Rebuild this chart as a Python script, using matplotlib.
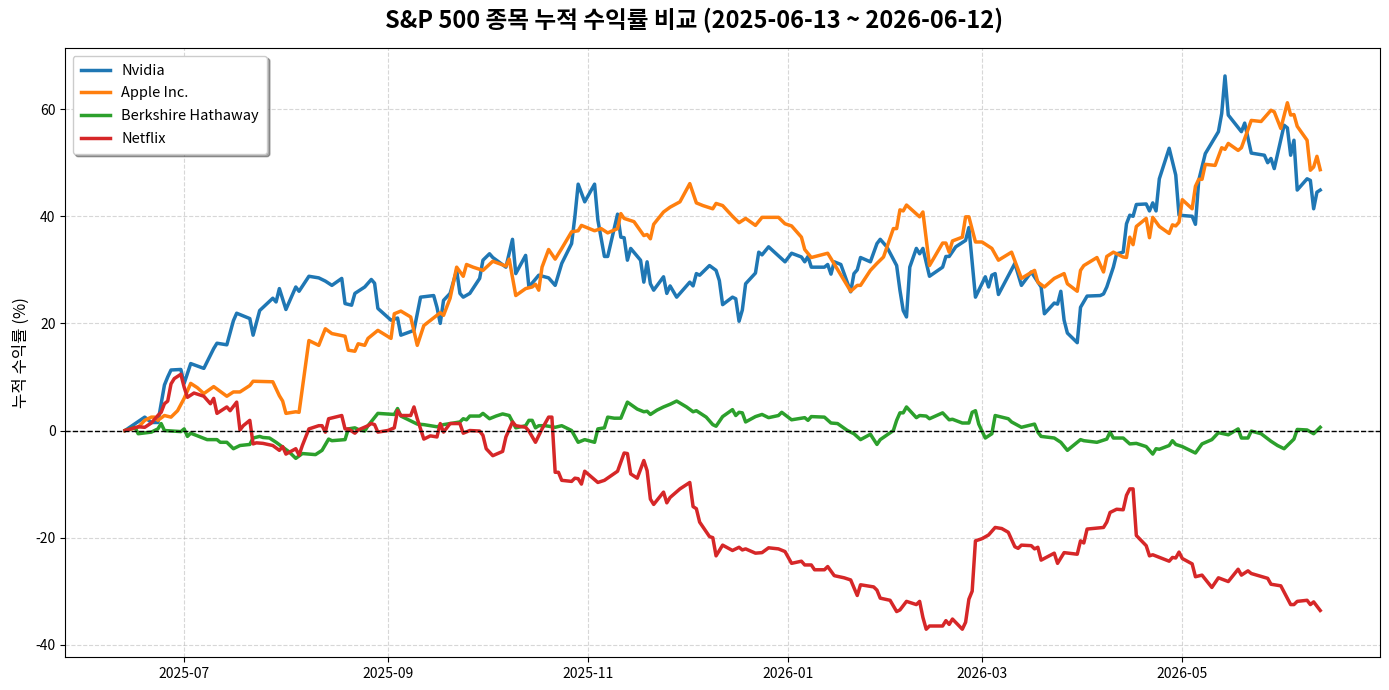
import matplotlib
matplotlib.use("Agg")
import matplotlib.pyplot as plt
import matplotlib.dates as mdates
import pandas as pd

plt.rcParams['font.family'] = ['Noto Sans CJK KR', 'DejaVu Sans']
plt.rcParams['axes.unicode_minus'] = False

start_date = "2025-06-13"
series_names = ["Nvidia", "Apple Inc.", "Berkshire Hathaway", "Netflix"]
series_colors = ["#1f77b4", "#ff7f0e", "#2ca02c", "#d62728"]

# (days since start, cumulative return %)
nvda = [(0,0),(6,2.5),(8,1.5),(10,1.5),(12,8.5),(13,10),(14,11.3),(17,11.4),(18,8.8),(20,12.5),
        (24,11.6),(27,15.3),(28,16.3),(31,16),(33,20.5),(34,21.9),(38,20.9),(39,17.8),(41,22.4),(45,24.7),
        (46,24),(47,26.5),(49,22.6),(52,26.8),(53,26),(56,28.8),(59,28.5),(61,27.9),(63,27.1),(66,28.4),
        (67,23.7),(69,23.4),(70,25.6),(73,26.8),(75,28.2),(76,27.5),(77,22.8),(81,20.6),(83,21),(84,17.8),
        (88,18.7),(90,24.9),(94,25.2),(95,23),(96,20),(97,24.3),(99,25.6),(101,29.9),(102,25.6),(103,24.9),
        (105,25.6),(108,28.4),(109,31.8),(111,33),(112,32.3),(116,30.5),(118,35.7),(119,29.3),(122,32.7),(123,26.8),
        (126,29),(129,28.5),(131,27.1),(133,31.2),(136,34.9),(137,39.9),(138,46),(140,42.7),(143,46),(144,39.3),
        (146,32.5),(147,32.5),(150,40.4),(151,36.1),(152,36),(153,31.8),(154,34),(157,31.8),(158,27.7),(159,31.5),
        (160,27.4),(161,26.2),(164,28.7),(165,25.6),(166,27),(168,24.9),(172,27.7),(173,27),(174,29.3),(175,29),
        (178,30.8),(180,29.9),(181,28),(182,23.5),(185,24.9),(186,24.6),(187,20.4),(188,22.5),(189,27.4),(192,29.4),
        (193,33.3),(194,32.8),(196,34.3),(201,31.5),(203,33.1),(206,32.4),(207,31.5),(208,32.5),(209,30.5),(213,30.5),
        (214,31),(215,29.2),(216,31.5),(218,31),(221,25.9),(222,29.3),(223,30),(224,32.3),(227,31.5),(229,34.9),
        (230,35.7),(232,34.3),(235,30.8),(236,26.2),(237,22.4),(238,21.2),(239,30.5),(241,34),(242,33),(243,34),
        (245,28.8),(249,30.5),(250,32.5),(251,32.5),(253,34.3),(256,35.5),(257,37.9),(259,24.9),(262,28.7),(263,26.8),
        (264,29),(265,29.3),(266,25.4),(271,31.2),(273,27.1),(276,29.6),(279,26.8),(280,21.8),(283,23.8),(284,23.6),
        (285,26),(286,20.6),(287,18.2),(290,16.4),(291,23),(293,25.1),(297,25.2),(298,25.5),(299,26.8),(301,30.5),
        (302,33),(304,33.3),(305,38.6),(306,40.2),(307,40),(308,42.2),(311,42.3),(312,41),(313,42.5),(314,41),
        (315,47),(318,52.7),(320,47.7),(321,40.2),(325,40),(326,38.5),(327,46.7),(329,51.7),(333,55.8),(334,59.2),
        (335,66.2),(336,58.9),(340,55.8),(341,57.4),(343,51.8),(347,51.4),(348,50),(349,50.8),(350,48.9),(353,57),
        (354,56.5),(355,51.4),(356,54.2),(357,44.9),(360,47),(361,46.7),(362,41.4),(363,44.5),(364,44.9)]

aapl = [(0,0),(4,0.6),(6,1.9),(8,2.5),(9,2.5),(10,1.9),(12,2.8),(14,2.5),(16,3.7),(18,6),
        (20,8.8),(22,8),(24,6.9),(27,8.2),(31,6.4),(33,7.2),(35,7.2),(36,7.6),(38,8.4),(39,9.2),
        (45,9.1),(47,6.5),(48,5.5),(49,3.2),(52,3.5),(53,3.4),(56,16.8),(59,15.9),(61,19),(63,18.1),
        (67,17.6),(68,15),(70,14.8),(71,16.2),(73,15.9),(74,17.2),(77,18.7),(81,17.2),(82,21.8),(84,22.3),
        (87,21.2),(89,15.9),(91,19.6),(95,21.5),(96,22),(97,21.5),(99,24.7),(101,30.5),(103,28.8),(104,31),
        (106,30.5),(109,29.9),(112,31.6),(116,30.7),(117,32),(119,25.2),(122,26.5),(124,26.8),(125,27.3),(126,26.2),
        (127,30.5),(129,33.8),(131,32),(133,34),(136,37.1),(138,37.3),(139,38.3),(143,37.3),(145,37.7),(147,36.9),
        (150,37.7),(151,40.5),(152,39.6),(155,39),(158,36.4),(159,36.6),(160,35.8),(161,38.5),(164,40.8),(166,41.7),
        (169,42.7),(172,46.1),(174,42.5),(176,42),(179,41.4),(180,42.4),(182,42),(185,40),(187,38.8),(189,39.6),
        (192,38.3),(194,39.8),(199,39.8),(201,38.6),(203,38.2),(206,36.1),(207,33.8),(209,32.3),(214,33.1),(215,32.1),
        (221,26),(223,27.1),(224,27.1),(227,29.9),(229,31.2),(231,32.4),(234,37.7),(235,37.7),(236,41.2),(237,41),
        (238,42.1),(242,39.9),(243,40.8),(245,30.8),(249,35),(250,35),(251,33.3),(252,35.4),(255,36.1),(256,39.9),
        (257,39.9),(259,35.2),(261,35.2),(264,34),(266,31.8),(270,33.3),(273,28.4),(277,29.9),(278,27.7),(280,26.8),
        (283,28.4),(286,29.3),(287,27.4),(290,26),(291,29.9),(292,30.8),(296,32.3),(298,29.6),(299,32.5),(301,33.3),
        (304,32.4),(305,32.3),(306,36.1),(307,34.7),(308,38.1),(311,39.6),(312,36),(313,39.8),(315,38.1),(318,36.8),
        (319,38.4),(320,38.2),(321,38.9),(322,43.1),(325,41.4),(326,45.6),(327,46.9),(328,46.9),(329,49.7),(332,49.5),
        (334,52.8),(335,52.5),(336,53.6),(339,52.3),(340,52.8),(343,57.9),(346,57.7),(349,59.8),(350,59.5),(352,56.4),
        (354,61.2),(355,58.9),(356,59),(357,56.8),(360,54.2),(361,48.6),(362,49.2),(363,51.2),(364,48.7)]

brk = [(0,0),(3,0.6),(4,-0.6),(8,-0.3),(10,0.3),(11,1.3),(12,0),(17,-0.2),(18,0.3),(19,-1.1),
       (20,-0.5),(25,-1.7),(28,-1.7),(29,-2.2),(31,-2.2),(33,-3.4),(35,-2.8),(38,-2.6),(39,-1.4),(41,-1.1),
       (42,-1.3),(44,-1.4),(46,-2.2),(48,-3.1),(50,-4),(52,-5.2),(54,-4.3),(58,-4.5),(60,-3.7),(62,-1.6),
       (63,-1.9),(67,-1.7),(68,0.3),(70,0.5),(71,0.2),(73,-0.1),(74,0.9),(77,3.2),(82,3),(83,4.1),
       (84,2.7),(89,1.2),(91,1.1),(95,0.7),(97,1.1),(102,1.6),(103,2.2),(104,2),(105,2.7),(108,2.7),
       (109,3.2),(111,2.2),(113,2.7),(115,3.1),(117,2.8),(119,0.5),(122,0.9),(123,1.9),(124,1.9),(125,0.5),
       (126,0.9),(128,0.9),(131,0.6),(133,0.9),(136,0),(138,-2.2),(140,-1.7),(143,-2.2),(144,0.3),(146,0.5),
       (147,2.5),(149,2.3),(151,2.3),(153,5.3),(156,4),(158,3.5),(159,3.6),(160,3),(162,3.8),(164,4.4),
       (166,4.9),(168,5.5),(171,4.4),(173,3.5),(174,3.7),(177,2.5),(179,1.1),(180,0.8),(182,2.6),(185,3.9),
       (186,2.8),(187,3.4),(188,3.3),(189,1.6),(192,2.6),(194,3),(196,2.4),(199,2.8),(200,3.4),(203,2),
       (207,2.4),(208,1.9),(209,2.6),(213,2.5),(215,1.4),(217,1.3),(220,0),(222,-0.6),(224,-1.7),(227,-0.7),
       (229,-2.6),(230,-1.7),(234,0),(235,1.9),(236,3.3),(237,3.3),(238,4.4),(241,2.4),(242,2.8),(244,2.7),
       (245,2.2),(249,3.3),(251,2),(252,2.1),(255,1.4),(257,1.4),(258,3.4),(259,3.7),(260,1.2),(262,-1.4),
       (264,-0.6),(265,2.8),(269,2.2),(270,1.6),(273,0.6),(277,1.2),(278,-0.3),(279,-1.1),(283,-1.4),(285,-2.2),
       (287,-3.7),(291,-1.7),(292,-1.9),(296,-2.2),(299,-1.6),(300,-0.3),(301,-1.4),(304,-1.4),(306,-2.5),(308,-2.4),
       (311,-3),(313,-4.4),(314,-3.4),(315,-3.5),(318,-2.8),(319,-1.9),(320,-2.6),(322,-3),(326,-4.2),(328,-2.5),
       (331,-1.7),(333,-0.4),(336,-0.8),(339,0.3),(340,-1.4),(342,-1.4),(343,-0.1),(346,-0.6),(349,-2),(351,-2.8),
       (353,-3.4),(354,-2.8),(356,-1.6),(357,0.2),(360,0.1),(362,-0.6),(363,0),(364,0.6)]

nflx = [(0,0),(4,0.7),(6,0.6),(8,1.4),(10,2.8),(11,3.4),(12,5),(13,5.5),(14,8.7),(15,9.7),
        (17,10.5),(18,8.1),(19,6.2),(21,7),(24,6.4),(26,5),(27,6),(28,3.2),(31,4.4),(32,3.7),
        (34,5.3),(35,0.1),(36,0.9),(38,1.9),(39,-2.5),(40,-2.3),(42,-2.4),(45,-2.8),(47,-3.7),(48,-3),
        (49,-4.4),(52,-3.4),(53,-4.6),(54,-2.8),(56,0.3),(59,0.9),(60,0.9),(61,-0.3),(62,2.2),(66,2.8),
        (67,0.3),(68,0.3),(70,-0.5),(71,0.1),(74,0.9),(75,1.3),(76,1.1),(77,-0.3),(80,0),(82,0.5),
        (83,3.7),(84,2.8),(87,2.8),(88,4.4),(89,2.2),(91,-1.6),(93,-1),(94,-1.1),(95,-1.2),(96,1.3),
        (97,-0.3),(99,1.3),(102,1.3),(103,-0.5),(105,0),(108,-0.1),(109,-0.9),(110,-3.4),(112,-4.7),(115,-3.9),
        (116,-1.2),(118,1.6),(119,0.9),(122,0.6),(123,-0.1),(125,-2.2),(127,0.3),(129,2.5),(130,2.5),(131,-7.8),
        (132,-7.8),(133,-9.3),(136,-9.5),(137,-8.9),(138,-9),(139,-10),(140,-7.6),(144,-9.7),(146,-9.3),(150,-7.6),
        (152,-4.2),(153,-4.3),(154,-8.1),(156,-8.9),(158,-5.6),(159,-7.5),(160,-12.8),(161,-13.8),(164,-11.5),(165,-13.5),
        (166,-12.5),(169,-10.9),(172,-9.7),(173,-14.2),(174,-14.6),(175,-17.1),(178,-19.8),(179,-20),(180,-23.4),(182,-21.4),
        (185,-22.4),(187,-21.8),(188,-22.3),(189,-22.1),(192,-22.9),(194,-22.8),(196,-21.9),(199,-22.1),(201,-22.6),(203,-24.8),
        (206,-24.4),(207,-25.1),(209,-25.1),(210,-26),(213,-26),(214,-25.4),(216,-27.1),(219,-27.5),(221,-27.9),(223,-30.8),
        (224,-28.8),(228,-29.2),(229,-29.8),(230,-31.3),(233,-31.7),(235,-33.8),(236,-33.5),(238,-31.9),(241,-32.5),(242,-31.9),
        (243,-34.9),(244,-37.1),(245,-36.5),(249,-36.5),(250,-35.5),(251,-36.2),(252,-35.2),(255,-37.1),(256,-35.8),(257,-31.5),
        (258,-30),(259,-20.6),(261,-20.2),(263,-19.5),(265,-18.1),(267,-18.3),(269,-19),(271,-21.7),(272,-22),(273,-21.4),
        (276,-21.5),(277,-22.1),(278,-21.8),(279,-24.2),(283,-22.9),(284,-24.8),(286,-22.8),(290,-23.1),(291,-20.6),(292,-21),
        (293,-18.4),(298,-18.1),(299,-17.1),(300,-15.3),(302,-14.7),(304,-14.8),(305,-12.1),(306,-10.9),(307,-10.9),(308,-19.6),
        (311,-21.5),(312,-23.4),(313,-23.2),(318,-24.4),(319,-23.7),(320,-23.8),(321,-22.7),(322,-23.9),(325,-24.9),(326,-27.3),
        (328,-27),(331,-29.3),(333,-27.5),(336,-28.2),(339,-25.9),(340,-27),(342,-26.2),(343,-26.7),(348,-27.6),(349,-28.7),
        (352,-29),(355,-32.5),(356,-32.5),(357,-31.9),(360,-31.7),(361,-32.5),(362,-32),(364,-33.6)]

title_text = "S&P 500 종목 누적 수익률 비교 (2025-06-13 ~ 2026-06-12)"
ylabel_text = "누적 수익률 (%)"

fig, ax = plt.subplots(figsize=(13.89, 6.9), dpi=100)
fig.subplots_adjust(left=0.047, right=0.9935, top=0.930, bottom=0.048)

t0 = pd.Timestamp(start_date)
for name, color, data in zip(series_names, series_colors, [nvda, aapl, brk, nflx]):
    days = [d for d, _ in data]
    vals = [v for _, v in data]
    dates = t0 + pd.to_timedelta(days, unit="D")
    ax.plot(dates, vals, color=color, linewidth=2.5, label=name)

ax.axhline(0, color="black", linestyle="--", linewidth=1)
ax.grid(True, linestyle="--", alpha=0.5)
ax.xaxis.set_major_locator(mdates.MonthLocator(bymonth=[1, 3, 5, 7, 9, 11]))
ax.xaxis.set_major_formatter(mdates.DateFormatter("%Y-%m"))
fig.suptitle(title_text, fontsize=17, fontweight="bold", x=0.5, y=0.988, va="top")
ax.set_ylabel(ylabel_text, fontsize=12)
ax.tick_params(labelsize=10)
ax.legend(loc="upper left", fontsize=10.5, shadow=True, fancybox=True,
          labelspacing=0.6, borderpad=0.55)

fig.savefig("out.png", dpi=100)
